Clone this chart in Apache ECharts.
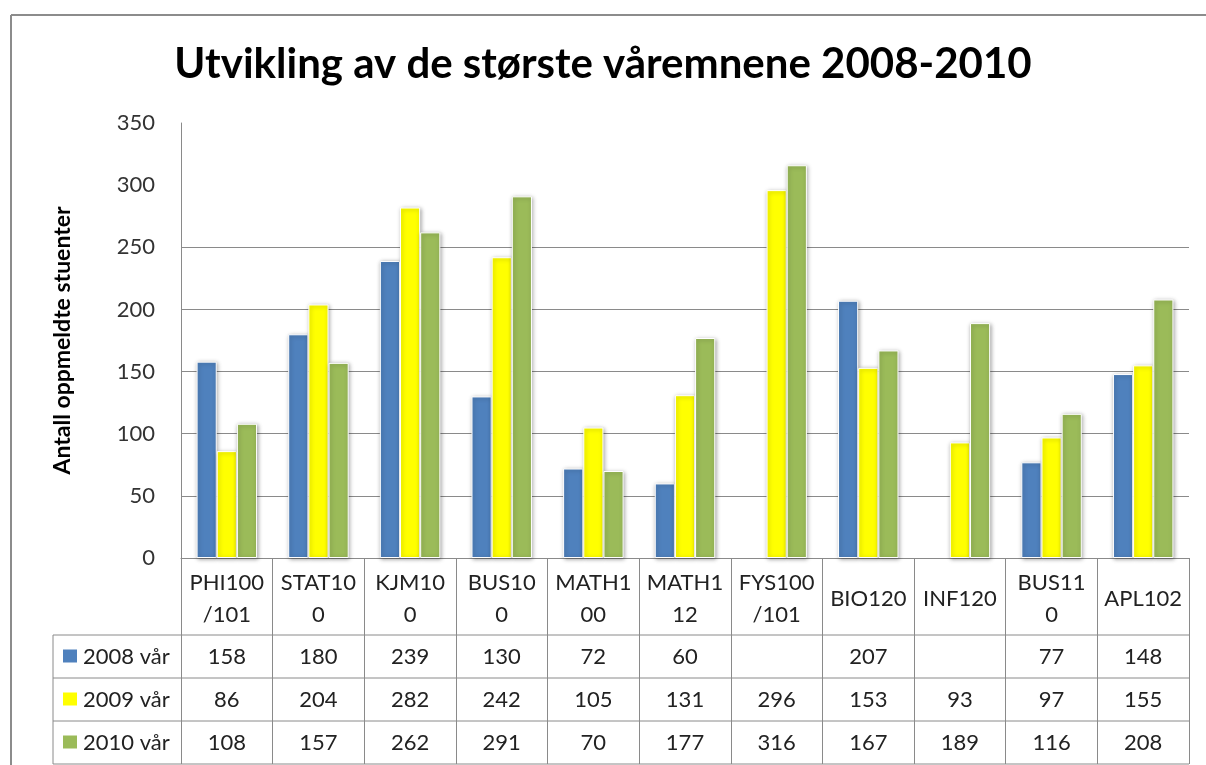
<!DOCTYPE html>
<html>
<head>
<meta charset="utf-8">
<script src="https://cdn.jsdelivr.net/npm/echarts@6/dist/echarts.min.js"></script>
<style>
  html, body { margin: 0; padding: 0; background: #fff; }
  #chart { width: 1206px; height: 765px; }
</style>
</head>
<body>
<div id="chart"></div>
<script>
// data
const courses = ['PHI100/101', 'STAT100', 'KJM100', 'BUS100', 'MATH100', 'MATH112', 'FYS100/101', 'BIO120', 'INF120', 'BUS110', 'APL102']
const courseLabels = ['PHI100\n/101', 'STAT10\n0', 'KJM10\n0', 'BUS10\n0', 'MATH1\n00', 'MATH1\n12', 'FYS100\n/101', 'BIO120', 'INF120', 'BUS11\n0', 'APL102']
const seriesNames = ['2008 vår', '2009 vår', '2010 vår']
const vaar2008 = [158, 180, 239, 130, 72, 60, null, 207, null, 77, 148]
const vaar2009 = [86, 204, 282, 242, 105, 131, 296, 153, 93, 97, 155]
const vaar2010 = [108, 157, 262, 291, 70, 177, 316, 167, 189, 116, 208]
const yMin = 0
const yMax = 350
const yStep = 50

const colors = ['#4F81BD', '#FFFF00', '#9BBB59']
const allValues = [vaar2008, vaar2009, vaar2010]

// layout (px)
const W = 1206
const H = 765
const plotLeft = 181
const plotRight = 1189
const plotTop = 123
const axisY = 558
const headerBottom = 635
const rowH = 43
const tableLeft = 53
const tableBottom = headerBottom + rowH * 3
const colW = (plotRight - plotLeft) / courses.length
const font = 'Lato, "Open Sans", sans-serif'
const lineColor = '#8a8a8a'
const cellFont = '22px ' + font

const chart = echarts.init(document.getElementById('chart'))

function tableGraphics() {
  const g = []
  // frame of the chart area
  g.push({ type: 'line', shape: { x1: 11, y1: 15, x2: W, y2: 15 }, style: { stroke: '#8c8c8c', lineWidth: 2 } })
  g.push({ type: 'line', shape: { x1: 11, y1: 15, x2: 11, y2: H }, style: { stroke: '#8c8c8c', lineWidth: 2 } })
  // horizontal table lines
  for (let r = 0; r <= 3; r++) {
    const y = headerBottom + r * rowH
    g.push({ type: 'line', shape: { x1: tableLeft, y1: y, x2: plotRight, y2: y }, style: { stroke: lineColor, lineWidth: 1 } })
  }
  g.push({ type: 'line', shape: { x1: tableLeft, y1: headerBottom, x2: tableLeft, y2: tableBottom }, style: { stroke: lineColor, lineWidth: 1 } })
  // legend keys + row names
  seriesNames.forEach((name, i) => {
    const cy = headerBottom + i * rowH + rowH / 2
    g.push({ type: 'rect', shape: { x: 63, y: cy - 7, width: 14, height: 13 }, style: { fill: colors[i] } })
    g.push({
      type: 'text', x: 83, y: cy,
      style: { text: name, font: cellFont, fill: '#222', textVerticalAlign: 'middle', textAlign: 'left' }
    })
    // values
    allValues[i].forEach((v, j) => {
      if (v == null) return
      g.push({
        type: 'text', x: plotLeft + (j + 0.5) * colW, y: cy,
        style: { text: String(v), font: cellFont, fill: '#222', textAlign: 'center', textVerticalAlign: 'middle' }
      })
    })
  })
  return g
}

const barStyle = (c) => ({
  color: c,
  borderColor: '#fff',
  borderWidth: 1,
  shadowBlur: 4,
  shadowColor: 'rgba(0,0,0,0.35)',
  shadowOffsetX: 1,
  shadowOffsetY: 1
})

chart.setOption({
  animation: false,
  backgroundColor: '#fff',
  title: {
    text: 'Utvikling av de største våremnene 2008-2010',
    left: 'center',
    top: 38,
    textStyle: { fontFamily: font, fontSize: 42, fontWeight: 'bold', color: '#000' }
  },
  grid: {
    left: plotLeft,
    right: W - plotRight,
    top: plotTop,
    bottom: H - axisY
  },
  xAxis: {
    type: 'category',
    data: courses,
    axisLine: { show: true, lineStyle: { color: lineColor, width: 1 } },
    axisTick: { show: true, length: tableBottom - axisY, lineStyle: { color: lineColor, width: 1 } },
    axisLabel: {
      formatter: (v, i) => courseLabels[i],
      margin: 41,
      verticalAlign: 'middle',
      lineHeight: 32,
      fontFamily: font,
      fontSize: 22,
      color: '#222',
      interval: 0
    }
  },
  yAxis: {
    type: 'value',
    min: yMin,
    max: yMax,
    interval: yStep,
    name: 'Antall oppmeldte stuenter',
    nameLocation: 'middle',
    nameRotate: 90,
    nameGap: 107,
    nameTextStyle: { fontFamily: font, fontSize: 23, fontWeight: 'bold', color: '#000' },
    axisLine: { show: true, lineStyle: { color: lineColor, width: 1 } },
    axisTick: { show: false },
    axisLabel: { margin: 26, fontFamily: font, fontSize: 22, color: '#333' },
    splitLine: {
      show: true,
      lineStyle: {
        width: 1,
        // the top two grid lines are not drawn in the original
        color: [lineColor, lineColor, lineColor, lineColor, lineColor, lineColor, 'rgba(0,0,0,0)', 'rgba(0,0,0,0)']
      }
    }
  },
  series: [
    { name: seriesNames[0], type: 'bar', data: vaar2008, barGap: '0%', barCategoryGap: '34%', itemStyle: barStyle(colors[0]) },
    { name: seriesNames[1], type: 'bar', data: vaar2009, barGap: '0%', barCategoryGap: '34%', itemStyle: barStyle(colors[1]) },
    { name: seriesNames[2], type: 'bar', data: vaar2010, barGap: '0%', barCategoryGap: '34%', itemStyle: barStyle(colors[2]) }
  ],
  graphic: tableGraphics()
})
</script>
</body>
</html>
